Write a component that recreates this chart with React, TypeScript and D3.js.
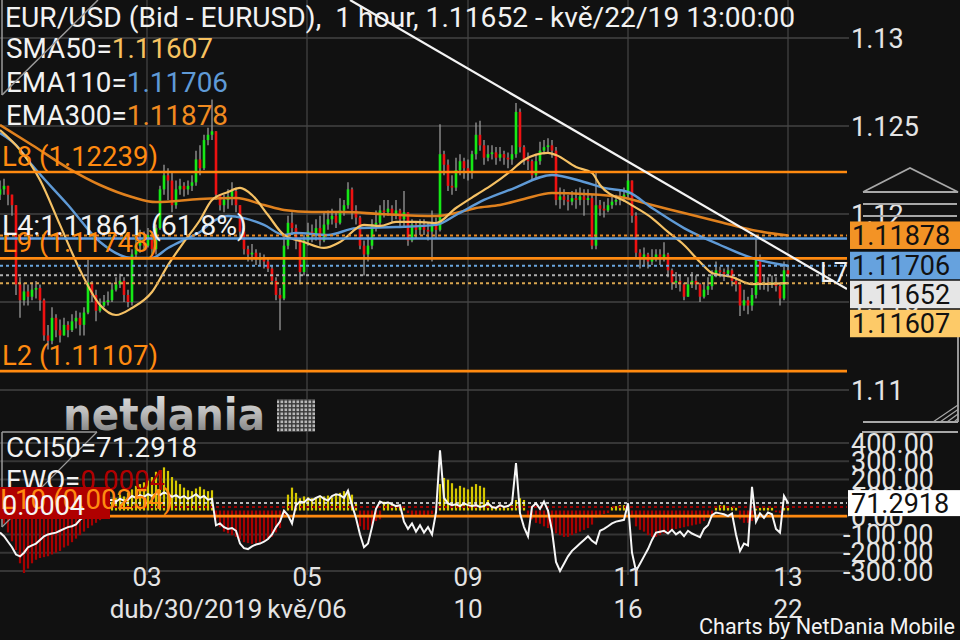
import React from "react";
import * as d3 from "d3";

// ---------- price candles (1 hour EUR/USD) ----------
const firstOpen = 1.1211;
const closes = [
  1.1214, 1.1216, 1.1211, 1.1205, 1.1160, 1.1151, 1.1156, 1.1153, 1.1157, 1.1158,
  1.1151, 1.1131, 1.1128, 1.1141, 1.1134, 1.1131, 1.1137, 1.1134, 1.1139, 1.1141,
  1.1137, 1.1144, 1.1161, 1.1154, 1.1145, 1.1148, 1.1150, 1.1151, 1.1157, 1.1160,
  1.1162, 1.1154, 1.1150, 1.1177, 1.1182, 1.1185, 1.1182, 1.1188, 1.1180, 1.1192,
  1.1214, 1.1222, 1.1219, 1.1205, 1.1214, 1.1216, 1.1214, 1.1216, 1.1218, 1.1231,
  1.1226, 1.1242, 1.1245, 1.1247, 1.1211, 1.1205, 1.1208, 1.1210, 1.1213, 1.1205,
  1.1190, 1.1180, 1.1177, 1.1178, 1.1174, 1.1175, 1.1173, 1.1169, 1.1162, 1.1154,
  1.1152, 1.1182, 1.1195, 1.1192, 1.1185, 1.1167, 1.1185, 1.1190, 1.1188, 1.1192,
  1.1185, 1.1194, 1.1197, 1.1199, 1.1195, 1.1202, 1.1205, 1.1214, 1.1202, 1.1198,
  1.1182, 1.1177, 1.1182, 1.1194, 1.1195, 1.1202, 1.1201, 1.1203, 1.1199, 1.1202,
  1.1197, 1.1201, 1.1185, 1.1194, 1.1191, 1.1194, 1.1191, 1.1190, 1.1194, 1.1191,
  1.1234, 1.1228, 1.1216, 1.1215, 1.1225, 1.1230, 1.1226, 1.1224, 1.1234, 1.1245,
  1.1239, 1.1232, 1.1234, 1.1235, 1.1232, 1.1234, 1.1232, 1.1231, 1.1234, 1.1258,
  1.1238, 1.1231, 1.1230, 1.1222, 1.1230, 1.1236, 1.1238, 1.1239, 1.1236, 1.1208,
  1.1210, 1.1208, 1.1207, 1.1209, 1.1208, 1.1210, 1.1208, 1.1209, 1.1182, 1.1205,
  1.1203, 1.1202, 1.1205, 1.1207, 1.1208, 1.1209, 1.1211, 1.1219, 1.1199, 1.1178,
  1.1175, 1.1177, 1.1173, 1.1175, 1.1177, 1.1175, 1.1177, 1.1168, 1.1161, 1.1162,
  1.1160, 1.1153, 1.1160, 1.1162, 1.1160, 1.1153, 1.1157, 1.1159, 1.1165, 1.1168,
  1.1167, 1.1166, 1.1168, 1.1162, 1.1160, 1.1148, 1.1151, 1.1148, 1.1154, 1.1175,
  1.1160, 1.1161, 1.1160, 1.1161, 1.1159, 1.1152, 1.1168, 1.11652,
];
const highs = [
  1.1219, 1.1220, 1.1216, 1.1211, 1.1205, 1.1164, 1.1161, 1.1160, 1.1161, 1.1162,
  1.1160, 1.1152, 1.1137, 1.1147, 1.1143, 1.1140, 1.1141, 1.1139, 1.1143, 1.1145,
  1.1144, 1.1147, 1.1174, 1.1162, 1.1157, 1.1152, 1.1154, 1.1156, 1.1161, 1.1164,
  1.1166, 1.1164, 1.1157, 1.1180, 1.1188, 1.1191, 1.1190, 1.1192, 1.1190, 1.1194,
  1.1216, 1.1228, 1.1226, 1.1224, 1.1219, 1.1220, 1.1218, 1.1219, 1.1222, 1.1236,
  1.1239, 1.1245, 1.1249, 1.1265, 1.1247, 1.1211, 1.1211, 1.1214, 1.1218, 1.1215,
  1.1205, 1.1192, 1.1182, 1.1183, 1.1180, 1.1178, 1.1177, 1.1175, 1.1171, 1.1164,
  1.1158, 1.1188, 1.1199, 1.1201, 1.1194, 1.1186, 1.1188, 1.1195, 1.1194, 1.1197,
  1.1199, 1.1201, 1.1202, 1.1203, 1.1201, 1.1209, 1.1208, 1.1218, 1.1215, 1.1205,
  1.1199, 1.1185, 1.1188, 1.1197, 1.1202, 1.1205, 1.1208, 1.1208, 1.1205, 1.1208,
  1.1203, 1.1213, 1.1201, 1.1197, 1.1195, 1.1197, 1.1197, 1.1195, 1.1202, 1.1198,
  1.1251, 1.1236, 1.1231, 1.1222, 1.1232, 1.1234, 1.1232, 1.1231, 1.1236, 1.1252,
  1.1253, 1.1242, 1.1239, 1.1239, 1.1238, 1.1238, 1.1236, 1.1235, 1.1239, 1.1263,
  1.1260, 1.1239, 1.1235, 1.1231, 1.1234, 1.1241, 1.1242, 1.1243, 1.1242, 1.1238,
  1.1215, 1.1214, 1.1211, 1.1213, 1.1214, 1.1215, 1.1214, 1.1214, 1.1211, 1.1224,
  1.1208, 1.1207, 1.1209, 1.1210, 1.1211, 1.1213, 1.1215, 1.1223, 1.1219, 1.1201,
  1.1180, 1.1181, 1.1178, 1.1180, 1.1180, 1.1180, 1.1184, 1.1178, 1.1169, 1.1167,
  1.1165, 1.1161, 1.1164, 1.1167, 1.1165, 1.1161, 1.1161, 1.1164, 1.1168, 1.1173,
  1.1170, 1.1169, 1.1171, 1.1169, 1.1164, 1.1160, 1.1157, 1.1153, 1.1158, 1.1186,
  1.1177, 1.1165, 1.1164, 1.1165, 1.1164, 1.1160, 1.1173, 1.1171,
];
const lows = [
  1.1208, 1.1211, 1.1205, 1.1199, 1.1154, 1.1141, 1.1148, 1.1148, 1.1151, 1.1152,
  1.1145, 1.1128, 1.1123, 1.1126, 1.1130, 1.1127, 1.1131, 1.1130, 1.1133, 1.1135,
  1.1131, 1.1131, 1.1143, 1.1150, 1.1139, 1.1144, 1.1147, 1.1148, 1.1150, 1.1156,
  1.1158, 1.1150, 1.1147, 1.1148, 1.1175, 1.1178, 1.1180, 1.1181, 1.1176, 1.1177,
  1.1191, 1.1211, 1.1208, 1.1201, 1.1203, 1.1211, 1.1210, 1.1211, 1.1213, 1.1216,
  1.1222, 1.1225, 1.1239, 1.1242, 1.1208, 1.1202, 1.1201, 1.1203, 1.1205, 1.1201,
  1.1186, 1.1177, 1.1173, 1.1173, 1.1171, 1.1171, 1.1169, 1.1167, 1.1160, 1.1151,
  1.1134, 1.1151, 1.1180, 1.1188, 1.1180, 1.1160, 1.1165, 1.1182, 1.1184, 1.1185,
  1.1182, 1.1184, 1.1191, 1.1194, 1.1192, 1.1194, 1.1199, 1.1203, 1.1197, 1.1194,
  1.1180, 1.1165, 1.1173, 1.1180, 1.1190, 1.1192, 1.1198, 1.1199, 1.1195, 1.1197,
  1.1192, 1.1192, 1.1182, 1.1184, 1.1186, 1.1188, 1.1188, 1.1185, 1.1173, 1.1186,
  1.1190, 1.1222, 1.1213, 1.1211, 1.1213, 1.1222, 1.1220, 1.1219, 1.1220, 1.1231,
  1.1236, 1.1228, 1.1230, 1.1231, 1.1228, 1.1230, 1.1228, 1.1226, 1.1228, 1.1232,
  1.1235, 1.1228, 1.1225, 1.1219, 1.1220, 1.1228, 1.1234, 1.1235, 1.1232, 1.1205,
  1.1203, 1.1205, 1.1202, 1.1205, 1.1203, 1.1205, 1.1199, 1.1205, 1.1180, 1.1180,
  1.1199, 1.1198, 1.1201, 1.1203, 1.1205, 1.1205, 1.1207, 1.1209, 1.1195, 1.1175,
  1.1169, 1.1171, 1.1169, 1.1171, 1.1173, 1.1171, 1.1173, 1.1164, 1.1157, 1.1158,
  1.1156, 1.1151, 1.1156, 1.1158, 1.1157, 1.1150, 1.1152, 1.1154, 1.1157, 1.1164,
  1.1164, 1.1162, 1.1164, 1.1159, 1.1156, 1.1142, 1.1145, 1.1143, 1.1145, 1.1152,
  1.1157, 1.1157, 1.1156, 1.1158, 1.1156, 1.1148, 1.1151, 1.1164,
];

// ---------- moving averages (sampled at candle indices) ----------
const sma50Idx = [0, 5, 10, 15, 20, 25, 29, 33, 38, 42, 46, 50, 53, 57, 60, 63, 67, 71, 76, 81, 85, 91, 95, 99, 104, 109, 114, 119, 123, 128, 131, 137, 139, 144, 148, 150, 157, 163, 167, 171, 175, 178, 183, 188, 197];
const sma50Val = [1.12477, 1.12364, 1.12193, 1.11938, 1.11682, 1.11483, 1.11426, 1.11466, 1.11557, 1.1171, 1.11841, 1.11966, 1.1208, 1.12125, 1.12148, 1.12108, 1.11994, 1.11881, 1.11841, 1.11807, 1.11841, 1.11938, 1.11932, 1.11955, 1.11955, 1.11949, 1.12034, 1.12108, 1.12165, 1.1225, 1.12307, 1.12347, 1.12335, 1.12267, 1.12233, 1.12165, 1.12063, 1.11977, 1.11898, 1.11824, 1.11727, 1.11665, 1.11642, 1.11602, 1.11607];
const ema110Idx = [0, 4, 8, 17, 25, 33, 38, 42, 47, 50, 53, 57, 61, 66, 71, 74, 82, 89, 99, 109, 114, 121, 128, 138, 146, 151, 157, 163, 171, 180, 188, 197];
const ema110Val = [1.1246, 1.12392, 1.12278, 1.12051, 1.11841, 1.1175, 1.1175, 1.11807, 1.11864, 1.11898, 1.11955, 1.11989, 1.11977, 1.11938, 1.11881, 1.11892, 1.11881, 1.1192, 1.11926, 1.11938, 1.11994, 1.1208, 1.12142, 1.12222, 1.12182, 1.12148, 1.12125, 1.12034, 1.1192, 1.11824, 1.1175, 1.11706];
const ema300Idx = [0, 8, 17, 25, 33, 39, 50, 59, 66, 71, 78, 86, 95, 109, 114, 119, 125, 131, 138, 146, 155, 163, 171, 180, 188, 197];
const ema300Val = [1.12506, 1.12392, 1.12261, 1.12165, 1.12097, 1.12068, 1.12085, 1.12091, 1.12051, 1.12023, 1.12011, 1.12011, 1.12, 1.11989, 1.12006, 1.12034, 1.12051, 1.12085, 1.12119, 1.12114, 1.12097, 1.12051, 1.12006, 1.11955, 1.11909, 1.11878];

// ---------- lower panel: EWO (units of 0.0001) and CCI(50) ----------
const ewo = [
  -5, -15, -25, -35, -45, -60, -71, -66, -60, -56,
  -54, -53, -52, -50, -48, -46, -42, -40, -36, -32,
  -28, -24, -20, -17, -14, -11, -9, -7, 10, 14,
  18, 16, 20, 24, 28, 30, 32, 34, 38, 44,
  46, 49, 45, 38, 34, 30, 26, 23, 22, 25,
  27, 24, 22, 23, -10, -19, -24, -26, -28, -30,
  -33, -36, -37, -38, -37, -36, -34, -32, -30, -25,
  -20, -8, 18, 26, 20, 14, 16, 15, 14, 15,
  15, 16, 17, 15, 18, 20, 22, 23, 18, 8,
  -18, -22, -22, -18, -12, -10, 10, 8, 6, 5,
  4, 5, -3, -5, -7, -7, -6, -5, -4, -3,
  30, 37, 35, 31, 25, 28, 26, 24, 27, 30,
  28, 26, 12, 5, 4, 3, 4, 3, 6, 12,
  14, 12, -8, -10, -14, -15, -18, -20, -22, -26,
  -28, -30, -30, -28, -26, -24, -22, -20, -16, -8,
  -6, -4, -3, 4, 5, 6, 6, 5, -8, -18,
  -22, -24, -28, -30, -30, -28, -26, -24, -22, -21,
  -20, -19, -18, -17, -16, -15, -12, -8, -4, 5,
  6, 6, 5, 4, 3, -10, -14, -14, -12, 2,
  3, 4, 3, 3, -2, -3, 3, 4,
];
const cci = [
  -90, -110, -140, -170, -210, -220, -200, -170, -160, -150,
  -130, -110, -100, -95, -90, -80, -70, -60, -55, -45,
  -20, -5, 20, 35, 45, 60, 75, 85, 90, 80,
  95, 85, 90, 110, 100, 115, 105, 120, 110, 125,
  115, 130, 120, 105, 115, 100, 110, 95, 105, 120,
  100, 110, 90, 95, -50, -40, -60, -70, -65, -80,
  -150, -175, -180, -165, -155, -150, -140, -125, -100, -60,
  -30, 30, 5, -40, 60, 80, 75, 95, 85, 100,
  110, 95, 85, 110, 120, 115, 100, 140, 60, -10,
  -100, -170, -150, -60, 40, 80, 70, 75, 65, 55,
  60, -30, -70, -40, -85, -50, -90, -60, -100, 20,
  360, 100, 70, 60, 65, 55, 70, 60, 55, 60,
  50, 55, 70, 50, 45, 60, 50, 55, 70, 290,
  15, -60, -110, 50, 70, 40, 80, 30, -80, -250,
  -300, -260, -220, -190, -170, -150, -130, -110, -135, -150,
  -80, -70, -55, -40, -30, -25, -20, 70, -200, -300,
  -260, -220, -180, -130, -90, -85, -80, -95, -75, -100,
  -85, -110, -80, -95, -105, -115, -70, -50, 5, 20,
  15, 10, 0, 15, -100, -190, -150, -160, 160, -30,
  15, -10, 20, 10, -70, -90, 110, 71.2918,
];

// ---------- levels, markers, axes ----------
const orangeLevelNames = ["L8", "L9", "L2"];
const orangeLevelValues = [1.12239, 1.11748, 1.11107];
const fibName = "L4";
const fibValue = 1.11861;
const fibPct = "61.8%";
const trendIdx = [87.5, 211.75];
const trendVal = [1.13216, 1.11574];
const markerValues = [1.11878, 1.11706, 1.11652, 1.11607];
const markerLabels = ["1.11878", "1.11706", "1.11652", "1.11607"];
const markerDotColors = ["#e88a25", "#6aa6e0", "#b0b0b0", "#d9a650"];
const markerBoxColors = ["#f39325", "#66a2de", "#e6e6e6", "#fdca68"];
const priceTicks = [1.11, 1.115, 1.12, 1.125, 1.13];
const priceTickLabels = ["1.11", "1.115", "1.12", "1.125", "1.13"];
const cciTicks = [400, 300, 200, 100, 0, -100, -200, -300];
const cciTickLabels = ["400.00", "300.00", "200.00", "100.00", "0.00", "-100.00", "-200.00", "-300.00"];
const cciLast = 71.2918;
const ewoLast = 4; // 0.0004
const timeTickIdx = [36.75, 76.75, 117, 157, 197];
const timeTopLabels = ["03", "05", "09", "11", "13"];
const timeBottomLabels = ["dub/30/2019", "kvě/06", "10", "16", "22"];

const FONT = "Roboto, 'Noto Sans', 'DejaVu Sans', sans-serif";

export default function App() {
  const N = closes.length;
  const plotRight = 847;
  const x = d3.scaleLinear().domain([0, N - 1]).range([0, 788]);
  const y = d3.scaleLinear().domain([1.11, 1.13]).range([390, 38]);
  const yCci = d3.scaleLinear().domain([-300, 400]).range([571, 443]);
  const yEwo = d3.scaleLinear().domain([0, 50]).range([510.5, 466.5]);

  const maLine = d3
    .line<number>()
    .curve(d3.curveMonotoneX);

  const mkPath = (idx: number[], vals: number[]) =>
    d3
      .line<number>()
      .x((_, i) => x(idx[i]))
      .y((v) => y(v))
      .curve(d3.curveMonotoneX)(vals) || "";

  const cciPath =
    d3
      .line<number>()
      .x((_, i) => x(i))
      .y((v) => yCci(v))(cci) || "";

  // stacked marker boxes
  let prevBottom = -Infinity;
  const boxes = markerValues.map((v, i) => {
    const top = Math.max(y(v) - 14, prevBottom + 1.5);
    prevBottom = top + 27.5;
    return { top, label: markerLabels[i], color: markerBoxColors[i] };
  });

  const textCommon = { fontFamily: FONT } as const;

  return (
    <svg
      width={960}
      height={640}
      style={{ position: "absolute", left: 0, top: 0, background: "#111111" }}
      fontFamily={FONT}
    >
      <defs>
        <clipPath id="mainClip">
          <rect x={0} y={0} width={plotRight} height={430} />
        </clipPath>
        <clipPath id="lowClip">
          <rect x={0} y={433} width={plotRight} height={145} />
        </clipPath>
        <linearGradient id="logoGrad" x1="0" y1="0" x2="0" y2="1">
          <stop offset="0" stopColor="#e8e8e8" />
          <stop offset="0.45" stopColor="#bdbdbd" />
          <stop offset="1" stopColor="#6e6e6e" />
        </linearGradient>
        <pattern id="chk" width={4} height={4} patternUnits="userSpaceOnUse">
          <rect x={0} y={0} width={4} height={4} fill="#3a3a3a" />
          <rect x={0.5} y={0.5} width={2.6} height={2.6} fill="#b8b8b8" />
        </pattern>
      </defs>
      <rect x={0} y={0} width={960} height={640} fill="#111111" />

      {/* ---------------- main panel grid ---------------- */}
      {priceTicks.map((t) => (
        <line key={"pg" + t} x1={0} x2={849} y1={y(t)} y2={y(t)} stroke="#363636" strokeWidth={2} />
      ))}
      {cciTicks.map((t) => (
        <line key={"cg" + t} x1={0} x2={849} y1={yCci(t)} y2={yCci(t)} stroke="#363636" strokeWidth={2} />
      ))}
      {timeTickIdx.map((t) => (
        <line key={"vg" + t} x1={x(t)} x2={x(t)} y1={0} y2={575} stroke="#474747" strokeWidth={1.2} />
      ))}

      {/* ---------------- main panel content ---------------- */}
      <g clipPath="url(#mainClip)">
        {closes.map((c, i) => {
          const o = i === 0 ? firstOpen : closes[i - 1];
          const hi = Math.max(highs[i], o, c);
          const lo = Math.min(lows[i], o, c);
          const cx = x(i);
          const yt = y(Math.max(o, c));
          const yb = y(Math.min(o, c));
          return (
            <g key={"c" + i}>
              <line x1={cx} x2={cx} y1={y(hi)} y2={y(lo)} stroke="#a6a6a6" strokeWidth={1.2} />
              <rect
                x={cx - 1.3}
                width={2.6}
                y={yt}
                height={Math.max(1.2, yb - yt)}
                fill={c >= o ? "#16e816" : "#ee1111"}
              />
            </g>
          );
        })}

        <path d={mkPath(ema300Idx, ema300Val)} fill="none" stroke="#e0811e" strokeWidth={2.6} />
        <path d={mkPath(ema110Idx, ema110Val)} fill="none" stroke="#5f9ad6" strokeWidth={2.4} />
        <path d={mkPath(sma50Idx, sma50Val)} fill="none" stroke="#f5c164" strokeWidth={2.2} />

        {/* fib level */}
        <line x1={0} x2={plotRight} y1={y(fibValue)} y2={y(fibValue)} stroke="#5e9ee0" strokeWidth={2.4} />
        {/* orange levels */}
        {orangeLevelValues.map((v, i) => (
          <line key={"ol" + i} x1={0} x2={plotRight} y1={y(v)} y2={y(v)} stroke="#ff8a10" strokeWidth={2.6} />
        ))}
        {/* current value dotted lines */}
        {markerValues.map((v, i) => (
          <line
            key={"md" + i}
            x1={0}
            x2={plotRight}
            y1={y(v)}
            y2={y(v)}
            stroke={markerDotColors[i]}
            strokeWidth={2}
            strokeDasharray="3,3"
          />
        ))}
        {/* trend line */}
        <line
          x1={x(trendIdx[0])}
          y1={y(trendVal[0])}
          x2={x(trendIdx[1])}
          y2={y(trendVal[1])}
          stroke="#f4f4f4"
          strokeWidth={2.2}
        />
      </g>

      {/* level labels */}
      {orangeLevelValues.map((v, i) => (
        <text
          key={"olt" + i}
          x={2}
          y={y(v) - 6}
          fontSize={28}
          fill="#ff8a10"
          textLength={156}
          lengthAdjust="spacingAndGlyphs"
        >
          {orangeLevelNames[i] + " (" + v.toFixed(5) + ")"}
        </text>
      ))}
      <text x={2} y={y(fibValue) - 3} fontSize={28} fill="#f2f2f2" textLength={245} lengthAdjust="spacingAndGlyphs">
        {fibName + ":" + fibValue.toFixed(5) + " (" + fibPct + ")"}
      </text>
      <text x={820} y={282} fontSize={28} fill="#f2f2f2" textLength={28} lengthAdjust="spacingAndGlyphs">
        L7
      </text>

      {/* title & legend */}
      <text x={5} y={27} fontSize={27} fill="#f2f2f2" textLength={790} lengthAdjust="spacingAndGlyphs">
        {"EUR/USD (Bid - EURUSD), \u00a01 hour, 1.11652 - kvě/22/19 13:00:00"}
      </text>
      <text x={6} y={58} fontSize={28} fill="#f2f2f2" textLength={207} lengthAdjust="spacingAndGlyphs">
        SMA50=<tspan fill="#f7c260">{sma50Val[sma50Val.length - 1].toFixed(5)}</tspan>
      </text>
      <text x={6} y={92} fontSize={28} fill="#f2f2f2" textLength={222} lengthAdjust="spacingAndGlyphs">
        EMA110=<tspan fill="#5f9ad6">{ema110Val[ema110Val.length - 1].toFixed(5)}</tspan>
      </text>
      <text x={6} y={125} fontSize={28} fill="#f2f2f2" textLength={222} lengthAdjust="spacingAndGlyphs">
        EMA300=<tspan fill="#f08a20">{ema300Val[ema300Val.length - 1].toFixed(5)}</tspan>
      </text>

      {/* decoration lines top-left */}
      <line x1={2} y1={0} x2={2} y2={95} stroke="#9a9a9a" strokeWidth={1.5} />
      <line x1={2} y1={95} x2={98} y2={0} stroke="#9a9a9a" strokeWidth={1.5} />

      {/* netdania logo */}
      <text
        x={63}
        y={430}
        fontSize={44}
        fontWeight="bold"
        fontFamily="'DejaVu Sans', sans-serif"
        fill="url(#logoGrad)"
        textLength={202}
        lengthAdjust="spacingAndGlyphs"
      >
        netdania
      </text>
      <rect x={277} y={399} width={38} height={33} fill="url(#chk)" />

      {/* right price axis */}
      {priceTicks.map((t, i) => (
        <text key={"pl" + t} x={851} y={y(t) + 9.5} fontSize={27} fill="#e4e4e4">
          {priceTickLabels[i]}
        </text>
      ))}
      {/* scroll widget shapes */}
      <polyline points="863,192 910,168 958,192 863,192" fill="none" stroke="#a8a8a8" strokeWidth={1.8} />
      <line x1={863} x2={957} y1={204} y2={204} stroke="#a8a8a8" strokeWidth={2} />
      <line x1={863} x2={957} y1={216} y2={216} stroke="#a8a8a8" strokeWidth={2} />
      <line x1={958} x2={958} y1={337} y2={422} stroke="#a8a8a8" strokeWidth={1.8} />
      <line x1={863} x2={958} y1={422} y2={422} stroke="#a8a8a8" strokeWidth={1.8} />
      {[0, 1, 2, 3].map((k) => (
        <line
          key={"h" + k}
          x1={933 + k * 7}
          y1={422}
          x2={958}
          y2={405 + k * 4.5}
          stroke="#a8a8a8"
          strokeWidth={1.2}
        />
      ))}

      {boxes.map((b, i) => (
        <g key={"bx" + i}>
          <rect x={850} y={b.top} width={110} height={27.5} fill={b.color} />
          <text x={852} y={b.top + 23.5} fontSize={27} fill="#111">
            {b.label}
          </text>
        </g>
      ))}

      {/* ---------------- lower panel ---------------- */}
      <g clipPath="url(#lowClip)">
        {ewo.map((v, i) => {
          const y0 = yEwo(0);
          const y1 = yEwo(v);
          return (
            <rect
              key={"e" + i}
              x={x(i) - 1.1}
              width={2.2}
              y={Math.min(y0, y1)}
              height={Math.abs(y1 - y0)}
              fill={v >= 0 ? "#d6c800" : "#a80000"}
            />
          );
        })}
        <line x1={0} x2={plotRight} y1={yCci(0)} y2={yCci(0)} stroke="#ff8a10" strokeWidth={2.6} />
        <line
          x1={0}
          x2={plotRight}
          y1={yEwo(ewoLast)}
          y2={yEwo(ewoLast)}
          stroke="#9a0000"
          strokeWidth={2}
          strokeDasharray="3,3"
        />
        <line
          x1={0}
          x2={plotRight}
          y1={yCci(cciLast)}
          y2={yCci(cciLast)}
          stroke="#f0f0f0"
          strokeWidth={1.5}
          strokeDasharray="3,3"
        />
        <path d={cciPath} fill="none" stroke="#f6f6f6" strokeWidth={2} />
      </g>

      {/* lower panel decorations */}
      <line x1={2} y1={432} x2={97} y2={432} stroke="#9a9a9a" strokeWidth={1.5} />
      <line x1={2} y1={432} x2={2} y2={527} stroke="#9a9a9a" strokeWidth={1.5} />
      <line x1={2} y1={527} x2={97} y2={432} stroke="#9a9a9a" strokeWidth={1.2} />
      <line x1={862} x2={958} y1={432} y2={432} stroke="#a8a8a8" strokeWidth={1.8} />

      <text x={6} y={457} fontSize={27} fill="#f2f2f2" textLength={191} lengthAdjust="spacingAndGlyphs">
        {"CCI50=" + cciLast.toFixed(4)}
      </text>
      <text x={6} y={490} fontSize={27} fill="#f2f2f2" textLength={159} lengthAdjust="spacingAndGlyphs">
        EWO=<tspan fill="#b00000">{(ewoLast / 10000).toFixed(4)}</tspan>
      </text>
      <rect x={0} y={487} width={110} height={32} fill="#b00000" />
      <text x={0} y={509} fontSize={27} fill="#ff8a10" textLength={173} lengthAdjust="spacingAndGlyphs">
        L10 (0.00254)
      </text>
      <text x={2} y={515} fontSize={28} fill="#f4f4f4" textLength={83} lengthAdjust="spacingAndGlyphs">
        {(ewoLast / 10000).toFixed(4)}
      </text>

      {/* lower right axis */}
      {cciTicks.map((t, i) => (
        <text key={"cl" + t} x={t < 0 ? 843 : 851} y={yCci(t) + 9.5} fontSize={27} fill="#e4e4e4">
          {cciTickLabels[i]}
        </text>
      ))}
      <rect x={848} y={yCci(cciLast) - 13} width={112} height={26} fill="#ffffff" />
      <text x={851} y={yCci(cciLast) + 10} fontSize={27} fill="#111">
        {cciLast.toFixed(4)}
      </text>

      {/* time axis */}
      {timeTickIdx.map((t, i) => (
        <text key={"tt" + i} x={x(t)} y={586} fontSize={26} fill="#e4e4e4" textAnchor="middle">
          {timeTopLabels[i]}
        </text>
      ))}
      {timeTickIdx.map((t, i) => (
        <text
          key={"tb" + i}
          x={i === 0 ? x(t) + 39 : x(t)}
          y={618}
          fontSize={26}
          fill="#e4e4e4"
          textAnchor="middle"
        >
          {timeBottomLabels[i]}
        </text>
      ))}
      <text x={955} y={634} fontSize={22} fill="#f4f4f4" textAnchor="end" textLength={256} lengthAdjust="spacingAndGlyphs">
        Charts by NetDania Mobile
      </text>
    </svg>
  );
}
